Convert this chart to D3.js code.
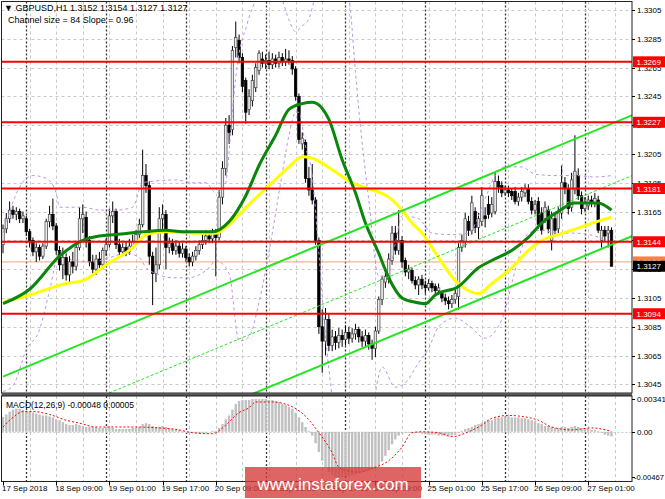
<!DOCTYPE html>
<html><head><meta charset="utf-8">
<script src="https://cdn.jsdelivr.net/npm/d3@7"></script>
<style>
body{margin:0;background:#fff}
svg{display:block}
text{font-family:"Liberation Sans",Arial,sans-serif}
</style></head>
<body><svg id="c" width="665" height="499"></svg>
<script>
// ---------------- DATA ----------------
const symbolTitle = "\u25BC GBPUSD,H1  1.3152 1.3154 1.3127 1.3127";
const channelTitle = "Channel size = 84 Slope = 0.96";
const macdTitle = "MACD(12,26,9) -0.00048 0.00005";

const opens = [
1.3142,1.3153,1.3160,1.3166,1.3163,1.3165,1.3160,1.3160,1.3151,1.3145,
1.3137,1.3140,1.3134,1.3141,1.3158,1.3163,1.3155,1.3138,1.3128,1.3133,
1.3121,1.3130,1.3127,1.3140,1.3160,1.3161,1.3145,1.3130,1.3125,1.3132,
1.3128,1.3138,1.3142,1.3162,1.3165,1.3142,1.3137,1.3140,1.3137,1.3141,
1.3144,1.3149,1.3156,1.3190,1.3183,1.3134,1.3122,1.3128,1.3160,1.3163,
1.3140,1.3143,1.3138,1.3141,1.3136,1.3139,1.3133,1.3130,1.3134,1.3138,
1.3142,1.3145,1.3148,1.3146,1.3150,1.3147,1.3175,1.3195,1.3225,1.3222,
1.3279,1.3284,1.3272,1.3256,1.3236,1.3242,1.3251,1.3263,1.3271,1.3268,
1.3270,1.3267,1.3271,1.3268,1.3272,1.3269,1.3271,1.3270,1.3264,1.3245,
1.3212,1.3213,1.3188,1.3180,1.3173,1.3145,1.3085,1.3075,1.3090,1.3072,
1.3078,1.3074,1.3079,1.3076,1.3081,1.3077,1.3080,1.3083,1.3078,1.3075,
1.3079,1.3073,1.3070,1.3082,1.3104,1.3116,1.3118,1.3131,1.3150,1.3138,
1.3145,1.3131,1.3123,1.3124,1.3117,1.3114,1.3118,1.3114,1.3112,1.3115,
1.3113,1.3110,1.3108,1.3105,1.3103,1.3101,1.3104,1.3106,1.3140,1.3144,
1.3158,1.3152,1.3165,1.3154,1.3158,1.3162,1.3170,1.3164,1.3165,1.3186,
1.3183,1.3178,1.3180,1.3179,1.3179,1.3172,1.3175,1.3178,1.3181,1.3172,
1.3166,1.3172,1.3164,1.3160,1.3166,1.3145,1.3160,1.3153,1.3164,1.3185,
1.3181,1.3168,1.3180,1.3190,1.3176,1.3167,1.3169,1.3173,1.3171,1.3173,
1.3145,1.3152,1.3150,1.3152];
const highs = [
1.3156,1.3164,1.3172,1.3169,1.3168,1.3167,1.3165,1.3162,1.3153,1.3147,
1.3143,1.3142,1.3143,1.3160,1.3169,1.3174,1.3157,1.3141,1.3140,1.3136,
1.3134,1.3137,1.3143,1.3168,1.3170,1.3165,1.3148,1.3135,1.3135,1.3137,
1.3140,1.3146,1.3167,1.3172,1.3167,1.3146,1.3143,1.3144,1.3146,1.3149,
1.3152,1.3160,1.3208,1.3198,1.3186,1.3137,1.3140,1.3168,1.3170,1.3166,
1.3147,1.3146,1.3145,1.3144,1.3143,1.3141,1.3136,1.3137,1.3141,1.3145,
1.3149,1.3152,1.3151,1.3153,1.3153,1.3180,1.3200,1.3230,1.3232,1.3280,
1.3297,1.3288,1.3275,1.3258,1.3250,1.3260,1.3268,1.3277,1.3276,1.3274,
1.3276,1.3275,1.3274,1.3276,1.3275,1.3278,1.3277,1.3273,1.3266,1.3247,
1.3220,1.3215,1.3196,1.3198,1.3175,1.3147,1.3097,1.3098,1.3094,1.3083,
1.3082,1.3084,1.3083,1.3086,1.3085,1.3084,1.3087,1.3085,1.3082,1.3083,
1.3081,1.3076,1.3085,1.3106,1.3120,1.3124,1.3136,1.3155,1.3155,1.3166,
1.3148,1.3133,1.3128,1.3126,1.3120,1.3120,1.3121,1.3117,1.3118,1.3117,
1.3115,1.3115,1.3110,1.3108,1.3106,1.3107,1.3111,1.3143,1.3149,1.3164,
1.3162,1.3176,1.3168,1.3164,1.3182,1.3168,1.3176,1.3175,1.3192,1.3190,
1.3186,1.3183,1.3183,1.3181,1.3182,1.3178,1.3182,1.3184,1.3184,1.3175,
1.3173,1.3175,1.3168,1.3172,1.3169,1.3165,1.3163,1.3168,1.3197,1.3189,
1.3184,1.3192,1.3218,1.3195,1.3179,1.3175,1.3176,1.3176,1.3178,1.3176,
1.3155,1.3155,1.3155,1.3154];
const lows = [
1.3136,1.3150,1.3157,1.3160,1.3159,1.3157,1.3157,1.3148,1.3140,1.3134,
1.3130,1.3131,1.3132,1.3139,1.3154,1.3152,1.3135,1.3124,1.3118,1.3117,
1.3116,1.3122,1.3124,1.3138,1.3150,1.3140,1.3127,1.3122,1.3121,1.3124,
1.3125,1.3134,1.3140,1.3157,1.3139,1.3133,1.3134,1.3134,1.3135,1.3139,
1.3142,1.3146,1.3154,1.3178,1.3128,1.3100,1.3116,1.3125,1.3150,1.3125,
1.3136,1.3135,1.3135,1.3133,1.3133,1.3130,1.3127,1.3127,1.3131,1.3135,
1.3139,1.3142,1.3143,1.3143,1.3120,1.3145,1.3170,1.3190,1.3212,1.3218,
1.3272,1.3268,1.3248,1.3226,1.3232,1.3238,1.3248,1.3260,1.3265,1.3264,
1.3264,1.3264,1.3265,1.3265,1.3266,1.3266,1.3267,1.3260,1.3242,1.3212,
1.3208,1.3185,1.3176,1.3170,1.3142,1.3080,1.3053,1.3065,1.3068,1.3068,
1.3069,1.3070,1.3071,1.3072,1.3073,1.3074,1.3076,1.3074,1.3071,1.3071,
1.3069,1.3062,1.3064,1.3080,1.3100,1.3112,1.3115,1.3128,1.3135,1.3135,
1.3126,1.3120,1.3118,1.3115,1.3111,1.3107,1.3111,1.3108,1.3110,1.3109,
1.3108,1.3107,1.3102,1.3100,1.3097,1.3098,1.3101,1.3097,1.3137,1.3140,
1.3148,1.3149,1.3150,1.3146,1.3155,1.3154,1.3160,1.3161,1.3163,1.3178,
1.3175,1.3176,1.3175,1.3173,1.3170,1.3169,1.3172,1.3175,1.3170,1.3163,
1.3163,1.3153,1.3149,1.3157,1.3150,1.3138,1.3149,1.3150,1.3160,1.3177,
1.3163,1.3165,1.3177,1.3173,1.3163,1.3165,1.3166,1.3168,1.3168,1.3150,
1.3140,1.3144,1.3140,1.3127];
const closes = [
1.3153,1.3160,1.3166,1.3163,1.3165,1.3160,1.3162,1.3151,1.3144,1.3137,
1.3140,1.3134,1.3141,1.3158,1.3163,1.3155,1.3138,1.3128,1.3133,1.3121,
1.3130,1.3127,1.3140,1.3160,1.3163,1.3145,1.3130,1.3125,1.3132,1.3128,
1.3138,1.3142,1.3162,1.3165,1.3142,1.3137,1.3140,1.3137,1.3141,1.3144,
1.3149,1.3156,1.3190,1.3183,1.3134,1.3122,1.3128,1.3160,1.3163,1.3140,
1.3143,1.3138,1.3141,1.3136,1.3139,1.3133,1.3130,1.3134,1.3138,1.3142,
1.3145,1.3148,1.3146,1.3150,1.3147,1.3175,1.3195,1.3225,1.3220,1.3277,
1.3286,1.3272,1.3252,1.3234,1.3245,1.3256,1.3265,1.3275,1.3268,1.3270,
1.3267,1.3271,1.3268,1.3272,1.3269,1.3271,1.3270,1.3264,1.3245,1.3215,
1.3216,1.3188,1.3180,1.3173,1.3145,1.3085,1.3075,1.3090,1.3072,1.3078,
1.3074,1.3079,1.3076,1.3081,1.3077,1.3080,1.3083,1.3078,1.3075,1.3079,
1.3073,1.3070,1.3082,1.3104,1.3118,1.3120,1.3132,1.3150,1.3138,1.3145,
1.3130,1.3123,1.3125,1.3117,1.3114,1.3118,1.3114,1.3112,1.3115,1.3112,
1.3110,1.3112,1.3105,1.3103,1.3101,1.3104,1.3108,1.3140,1.3145,1.3160,
1.3152,1.3171,1.3154,1.3160,1.3176,1.3160,1.3163,1.3170,1.3186,1.3182,
1.3178,1.3180,1.3178,1.3176,1.3172,1.3175,1.3179,1.3181,1.3172,1.3166,
1.3170,1.3156,1.3152,1.3168,1.3153,1.3160,1.3152,1.3164,1.3185,1.3181,
1.3167,1.3187,1.3193,1.3176,1.3167,1.3171,1.3173,1.3171,1.3174,1.3152,
1.3152,1.3148,1.3152,1.3127];

// moving averages (sampled by eye at bar indices)
const maFastBars = [0,8,17,24,29,34,42,49,54,63,68,73,77,82,86,90,93,98,102,106,109,113,116,120,124,127,130,137,143,147,153,158,162,167,172,176,179,183];
const maFast = [1.3101,1.3111,1.3134,1.3145,1.3148,1.3149,1.3151,1.3152,1.3151,1.3151,1.3158,1.3176,1.3197,1.3218,1.3236,1.3240,1.3241,1.3229,1.3201,1.3178,1.3157,1.3136,1.3119,1.3105,1.3102,1.3101,1.3107,1.3113,1.3126,1.3131,1.3138,1.3147,1.3157,1.3165,1.3171,1.3171,1.3171,1.3166];
const maSlowBars = [0,8,19,24,31,39,43,49,59,64,68,74,80,86,90,93,99,105,111,116,120,123,126,131,136,140,143,147,153,158,162,167,171,176,180,183];
const maSlow = [1.3102,1.3107,1.3115,1.3117,1.3128,1.3140,1.3149,1.3151,1.3150,1.3150,1.3156,1.3170,1.3183,1.3196,1.3203,1.3202,1.3194,1.3185,1.3180,1.3175,1.3166,1.3157,1.3150,1.3133,1.3117,1.3110,1.3108,1.3115,1.3126,1.3138,1.3145,1.3149,1.3152,1.3156,1.3159,1.3161];

// Bollinger-type bands (sampled by eye)
const bandUpBars = [0,5,9,13,16,17,24,29,34,39,42,45,52,57,61,64,67,68,69,70,71,72,73,74,76,80,84,86,88,90,92,94,97,104,106,107,110,113,116,118,120,125,129,135,140,145,148,151,156,160,166,172,178,183];
const bandUp = [1.3150,1.3182,1.3190,1.3188,1.3178,1.3168,1.3168,1.3166,1.3166,1.3168,1.3185,1.3186,1.3187,1.3185,1.3185,1.3178,1.3185,1.3207,1.3235,1.3258,1.3275,1.3285,1.3292,1.3300,1.3312,1.3329,1.3312,1.3298,1.3290,1.3294,1.3299,1.3316,1.3345,1.3313,1.3262,1.3236,1.3173,1.3120,1.3122,1.3143,1.3162,1.3160,1.3150,1.3149,1.3150,1.3174,1.3190,1.3196,1.3196,1.3191,1.3190,1.3190,1.3189,1.3190];
const bandLoBars = [0,3,7,11,14,17,21,27,32,37,41,43,46,51,56,59,62,64,68,71,74,77,80,82,84,86,88,89,91,93,95,97,99,101,105,110,112,114,118,121,125,128,131,136,140,145,150,155,158,162,167,172,178,183];
const bandLo = [1.3040,1.3044,1.3069,1.3083,1.3110,1.3137,1.3131,1.3130,1.3133,1.3136,1.3133,1.3126,1.3122,1.3119,1.3119,1.3121,1.3126,1.3131,1.3122,1.3075,1.3078,1.3102,1.3137,1.3164,1.3192,1.3218,1.3234,1.3234,1.3210,1.3190,1.3136,1.3078,1.3036,1.3000,1.2990,1.3005,1.3039,1.3057,1.3043,1.3046,1.3060,1.3070,1.3085,1.3091,1.3086,1.3077,1.3090,1.3132,1.3150,1.3152,1.3150,1.3150,1.3148,1.3142];

// regression channel (mid price at bars 0 and 190, half width)
const channelBars = [0,190];
const channelMid = [1.30083,1.31907];
const channelHalf = 0.0042;

// horizontal levels
const levels = [1.3269,1.3227,1.3181,1.3144,1.3094];
const askLevel = 1.3130;
const lastClose = 1.3127;

// axes
const priceTicks = [1.3305,1.3285,1.3265,1.3245,1.3225,1.3205,1.3185,1.3165,1.3145,1.3125,1.3105,1.3085,1.3065,1.3045];
const timeLabels = ["17 Sep 2018","18 Sep 09:00","19 Sep 01:00","19 Sep 17:00","20 Sep 09:00","21 Sep 01:00","21 Sep 17:00","24 Sep 09:00","25 Sep 01:00","25 Sep 17:00","26 Sep 09:00","27 Sep 01:00"];
const timeLabelBars = [0,16,32,48,64,80,96,112,128,144,160,176];
const daySeparatorBars = [7,31,55,79,103,127,151,175];
const macdMax = 0.00341, macdMin = -0.00467;

// MACD histogram (per bar) and signal (sampled)
const macdHist = [
0.00155,0.0018,0.0021,0.0023,0.0024,0.0024,0.0023,0.0022,0.0021,0.0020,
0.0019,0.0018,0.0017,0.0017,0.0016,0.0015,0.0013,0.0012,0.0010,0.0008,
0.0007,0.0007,0.0008,0.0007,0.0006,0.0005,0.0005,0.0005,0.0005,0.0004,
0.0004,0.0005,0.0005,0.0004,0.0003,0.0003,0.0003,0.0003,0.0003,0.0004,
0.0004,0.0005,0.0008,0.0009,0.0008,0.0006,0.0005,0.0005,0.0006,0.0005,
0.0004,0.0003,0.0002,0.0002,0.0001,0.0000,-0.0001,-0.0001,-0.0001,-0.0002,
-0.0001,-0.0001,0.0000,0.0001,0.0001,0.0004,0.0008,0.0013,0.0017,0.0023,
0.0029,0.0032,0.0033,0.0033,0.0033,0.0034,0.0034,0.0034,0.0034,0.0034,
0.0033,0.0033,0.0032,0.0031,0.0029,0.0028,0.0026,0.0024,0.0020,0.0015,
0.0010,0.0005,0.0001,-0.0004,-0.0012,-0.0021,-0.0030,-0.0037,-0.0042,-0.0045,
-0.0047,-0.0047,-0.0047,-0.0046,-0.0046,-0.0045,-0.0044,-0.0043,-0.0042,-0.0041,
-0.0040,-0.0039,-0.0038,-0.0036,-0.0031,-0.0025,-0.0019,-0.0013,-0.0008,-0.0004,
-0.0002,-0.0001,-0.0001,-0.0001,-0.0001,-0.0001,-0.0002,-0.0002,-0.0003,-0.0003,
-0.0003,-0.0004,-0.0004,-0.0004,-0.0004,-0.0004,-0.0003,-0.0001,0.0001,0.0003,
0.0004,0.0005,0.0007,0.0008,0.0009,0.0011,0.0012,0.0012,0.0014,0.0015,
0.0015,0.0016,0.0016,0.0015,0.0015,0.0015,0.0014,0.0014,0.0013,0.0012,
0.0011,0.0009,0.0008,0.0006,0.0006,0.0005,0.0004,0.0004,0.0005,0.0005,
0.0004,0.0005,0.0006,0.0005,0.0004,0.0004,0.0003,0.0002,0.0002,0.0001,
-0.0001,-0.0003,-0.0004,-0.00048];
const signalBars = [0,3,6,9,14,19,23,28,39,47,53,57,63,67,71,74,76,81,87,91,95,99,101,103,107,111,116,120,123,126,131,135,140,144,147,152,156,161,165,171,177,183];
const signal = [0.0005,0.0015,0.0021,0.0021,0.0018,0.0012,0.0009,0.0005,0.0005,0.0004,0.0002,-0.0001,-0.0002,0.0007,0.0020,0.0025,0.0031,0.0031,0.0026,0.0016,-0.0001,-0.0022,-0.0037,-0.0040,-0.0042,-0.0038,-0.0030,-0.0016,-0.0001,0.0000,-0.0001,-0.0005,0.0000,0.0007,0.0014,0.0017,0.0016,0.0012,0.0005,0.0002,0.0004,0.00005];

// ---------------- DRAW ----------------
const svg = d3.select("#c");
const L = 1.5, R = 632, T = 1.5, B = 393, MT = 396, MB = 481.5;
const x = d3.scaleLinear().domain([0, 183]).range([3, 611.5]);
const y = d3.scaleLinear().domain([1.3045, 1.3305]).range([384.3, 10]);
const ym = d3.scaleLinear().domain([macdMin, macdMax]).range([476.7, 399]);
const n = opens.length;

const defs = svg.append("defs");
defs.append("clipPath").attr("id","cm").append("rect").attr("x",L).attr("y",T).attr("width",R-L).attr("height",B-T);
defs.append("clipPath").attr("id","cd").append("rect").attr("x",L).attr("y",MT).attr("width",R-L).attr("height",MB-MT);

svg.append("rect").attr("width",665).attr("height",499).attr("fill","#fff");

const gm = svg.append("g").attr("clip-path","url(#cm)");
const gd = svg.append("g").attr("clip-path","url(#cd)");

// grid
const gridBars = d3.range(8, 190, 8);
[gm, gd].forEach((g,k) => {
  const y0 = k===0 ? T : MT, y1 = k===0 ? B : MB;
  g.selectAll(null).data(gridBars).join("line")
    .attr("x1", d=>Math.round(x(d))+0.5).attr("x2", d=>Math.round(x(d))+0.5)
    .attr("y1", y0).attr("y2", y1)
    .attr("stroke","#c8c8c8").attr("stroke-dasharray","3,3");
  g.selectAll(null).data(daySeparatorBars).join("line")
    .attr("x1", d=>Math.round(x(d))+0.5).attr("x2", d=>Math.round(x(d))+0.5)
    .attr("y1", y0).attr("y2", y1)
    .attr("stroke","#333").attr("stroke-width",1.3).attr("stroke-dasharray","2,2");
});
gm.selectAll(null).data(priceTicks).join("line")
  .attr("x1",L).attr("x2",R).attr("y1",d=>Math.round(y(d))+0.5).attr("y2",d=>Math.round(y(d))+0.5)
  .attr("stroke","#c8c8c8").attr("stroke-dasharray","3,3");
gd.append("line").attr("x1",L).attr("x2",R).attr("y1",Math.round(ym(0))+0.5).attr("y2",Math.round(ym(0))+0.5)
  .attr("stroke","#c8c8c8").attr("stroke-dasharray","2,2");

// ask line
gm.append("line").attr("x1",L).attr("x2",R).attr("y1",y(askLevel)).attr("y2",y(askLevel))
  .attr("stroke","#f4a27c").attr("stroke-width",1);

// candles
const idx = d3.range(n);
gm.selectAll(null).data(idx).join("line")
  .attr("x1",i=>x(i)).attr("x2",i=>x(i))
  .attr("y1",i=>y(highs[i])).attr("y2",i=>y(lows[i]))
  .attr("stroke","#000").attr("stroke-width",1);
gm.selectAll(null).data(idx).join("rect")
  .attr("x",i=>x(i)-1.25).attr("width",2.5)
  .attr("y",i=>y(Math.max(opens[i],closes[i])))
  .attr("height",i=>Math.max(1, Math.abs(y(opens[i])-y(closes[i]))))
  .attr("fill",i=>closes[i]>=opens[i] ? "#e8e8e8" : "#000")
  .attr("stroke",i=>closes[i]>=opens[i] ? "#444" : "#000").attr("stroke-width",0.7);

// bands
const lineF = (bars, vals, sc) => d3.line().x((d,i)=>x(bars[i])).y(d=>sc(d)).curve(d3.curveMonotoneX)(vals);
gm.append("path").attr("d",lineF(bandUpBars,bandUp,y)).attr("fill","none").attr("stroke","#c090e8").attr("stroke-width",1).attr("stroke-dasharray","3,3");
gm.append("path").attr("d",lineF(bandLoBars,bandLo,y)).attr("fill","none").attr("stroke","#c090e8").attr("stroke-width",1).attr("stroke-dasharray","3,3");

// MAs
gm.append("path").attr("d",lineF(maSlowBars,maSlow,y)).attr("fill","none").attr("stroke","#ffff00").attr("stroke-width",3);
gm.append("path").attr("d",lineF(maFastBars,maFast,y)).attr("fill","none").attr("stroke","#0a870a").attr("stroke-width",3);

// channel
const chan = (off) => d3.line().x((d,i)=>x(channelBars[i])).y(d=>y(d+off))(channelMid);
gm.append("path").attr("d",chan(channelHalf)).attr("stroke","#22e622").attr("stroke-width",2).attr("fill","none");
gm.append("path").attr("d",chan(-channelHalf)).attr("stroke","#22e622").attr("stroke-width",2).attr("fill","none");
gm.append("path").attr("d",chan(0)).attr("stroke","#22e622").attr("stroke-width",1).attr("stroke-dasharray","3,2").attr("fill","none");

// levels
gm.selectAll(null).data(levels).join("line")
  .attr("x1",L).attr("x2",R).attr("y1",d=>y(d)).attr("y2",d=>y(d))
  .attr("stroke","#ff0000").attr("stroke-width",2);

// MACD
gd.selectAll(null).data(idx).join("rect")
  .attr("x",i=>x(i)-1.2).attr("width",2.4)
  .attr("y",i=>Math.min(ym(0), ym(macdHist[i])))
  .attr("height",i=>Math.abs(ym(macdHist[i])-ym(0)))
  .attr("fill","#c0c0c0");
gd.append("path").attr("d",lineF(signalBars,signal,ym)).attr("fill","none").attr("stroke","#ff0000").attr("stroke-width",1).attr("stroke-dasharray","2,2");

// frames
svg.append("rect").attr("x",L).attr("y",T).attr("width",R-L).attr("height",B-T).attr("fill","none").attr("stroke","#222");
svg.append("rect").attr("x",L).attr("y",B).attr("width",R-L).attr("height",MT-B).attr("fill","#555");
svg.append("rect").attr("x",L).attr("y",MT).attr("width",R-L).attr("height",MB-MT).attr("fill","none").attr("stroke","#222");

// price axis labels
const ax = svg.append("g").attr("font-size","8px").attr("fill","#000");
ax.selectAll(null).data(priceTicks).join("line")
  .attr("x1",R).attr("x2",R+3).attr("y1",d=>Math.round(y(d))+0.5).attr("y2",d=>Math.round(y(d))+0.5).attr("stroke","#000");
ax.selectAll(null).data(priceTicks).join("text")
  .attr("x",R+5).attr("y",d=>y(d)+3).text(d=>d.toFixed(4));

// level labels
const lab = (v, fill, txt) => {
  const g = svg.append("g");
  g.append("rect").attr("x",R+1).attr("y",y(v)-5.5).attr("width",32).attr("height",11).attr("fill",fill);
  g.append("text").attr("x",R+4.5).attr("y",y(v)+3).attr("font-size","8px").attr("fill","#fff").text(txt);
};
levels.forEach(v => lab(v, "#ff0000", v.toFixed(4)));
lab(askLevel, "#ff7f3f", askLevel.toFixed(4));
lab(lastClose, "#000", lastClose.toFixed(4));

// MACD axis labels
const macdLabels = [[macdMax, macdMax.toFixed(5)], [0, "0.00"], [macdMin, macdMin.toFixed(5)]];
ax.selectAll(null).data(macdLabels).join("text")
  .attr("x",d=>d[0]<0 ? R+2 : R+5).attr("y",d=>ym(d[0])+3)
  .attr("font-size",d=>d[0]<0 ? "7.6px" : "8px").text(d=>d[1]);
ax.selectAll(null).data(macdLabels).join("line")
  .attr("x1",R).attr("x2",R+3).attr("y1",d=>Math.round(ym(d[0]))+0.5).attr("y2",d=>Math.round(ym(d[0]))+0.5).attr("stroke","#000");

// time labels
ax.selectAll(null).data(timeLabelBars).join("line")
  .attr("x1",d=>Math.round(x(d))+0.5).attr("x2",d=>Math.round(x(d))+0.5).attr("y1",MB).attr("y2",MB+4).attr("stroke","#000");
ax.selectAll(null).data(timeLabels).join("text")
  .attr("x",(d,i)=>x(timeLabelBars[i])-1).attr("y",491).text(d=>d);

// titles
svg.append("text").attr("x",4).attr("y",11).attr("font-size","9px").attr("fill","#000").text(symbolTitle);
svg.append("text").attr("x",8).attr("y",23).attr("font-size","9px").attr("fill","#000").text(channelTitle);
svg.append("text").attr("x",6).attr("y",408).attr("font-size","8.5px").attr("fill","#000").text(macdTitle);

// watermark
svg.append("rect").attr("x",245).attr("y",467).attr("width",176).attr("height",31).attr("fill","rgba(214,58,58,0.78)");
svg.append("text").attr("x",333).attr("y",490).attr("text-anchor","middle").attr("font-size","17px").attr("fill","#fff").text("www.instaforex.com");
</script>
</body></html>
